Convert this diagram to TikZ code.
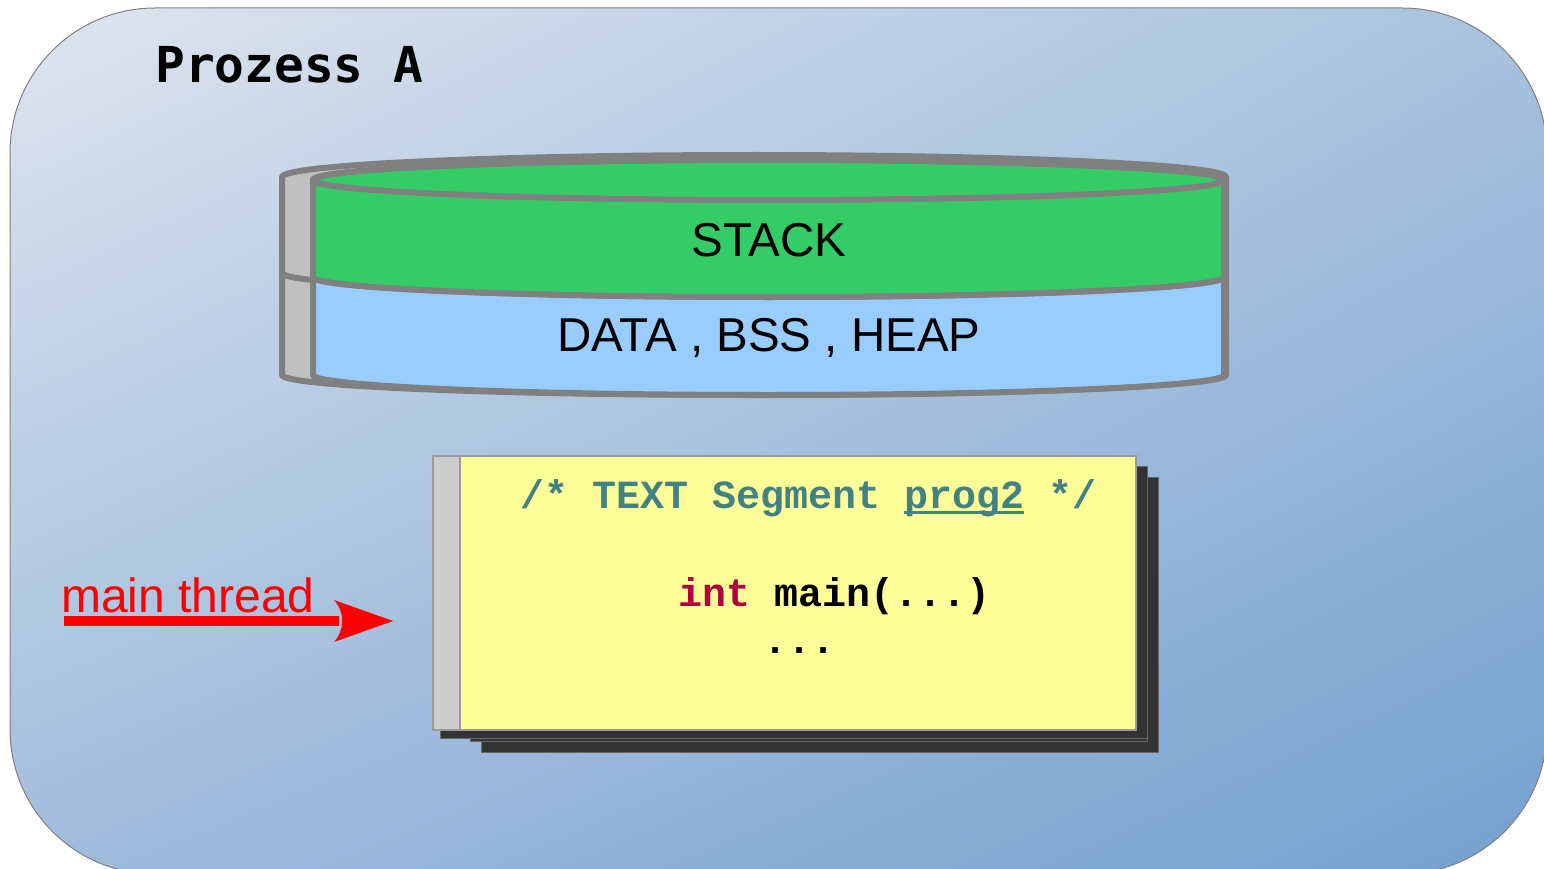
\documentclass[tikz,border=0pt]{standalone}
\usepackage{fontspec}
\setmainfont{Liberation Sans}
\newfontfamily\titlefont{DejaVu Sans Mono}
\newfontfamily\codefont{Liberation Mono}
\usetikzlibrary{shadings}
\definecolor{bgTL}{RGB}{222,229,239}
\definecolor{bgTR}{RGB}{168,194,222}
\definecolor{bgBL}{RGB}{160,188,220}
\definecolor{bgBR}{RGB}{116,160,207}
\definecolor{cylgray}{RGB}{128,128,128}
\definecolor{sidegray}{RGB}{192,192,192}
\definecolor{stackgreen}{RGB}{51,204,102}
\definecolor{datablue}{RGB}{153,204,255}
\definecolor{noteyellow}{RGB}{255,255,153}
\definecolor{stripgray}{RGB}{204,204,204}
\definecolor{shadowdark}{RGB}{51,51,51}
\definecolor{commentteal}{RGB}{67,130,130}
\definecolor{keywordred}{RGB}{176,0,64}
\newcommand\myul[1]{\setbox0=\hbox{#1}\rlap{\vrule width\wd0 height -3pt depth 5.5pt}\box0\relax}
\tikzset{
  cyl/.style={draw=cylgray, line width=6pt, line join=round},
  shadowbox/.style={fill=shadowdark, draw=black!60, line width=1pt},
  lbl/.style={inner sep=0pt, anchor=base},
  codetxt/.style={inner sep=0pt, anchor=base west, font=\codefont\bfseries\fontsize{40}{46}\selectfont},
}
\begin{document}
\begin{tikzpicture}[x=1pt,y=-1pt]
\useasboundingbox (0,0) rectangle (1544,869);
% process background
\shade[upper left=bgTL, upper right=bgTR, lower left=bgBL, lower right=bgBR, rounded corners=145pt]
  (10,8) rectangle (1547,874);
\draw[cylgray, line width=1pt, rounded corners=145pt] (10,8) rectangle (1547,874);
\node[inner sep=0pt, anchor=base west, font=\titlefont\bfseries\fontsize{49.5}{58}\selectfont] (title) at (155,83) {Prozess A};
% back cylinder
\draw[cyl, fill=sidegray] (282,177) arc[start angle=180, end angle=360, x radius=472, y radius=22]
  -- (1226,375) arc[start angle=0, end angle=180, x radius=472, y radius=20] -- cycle;
\draw[cyl] (282,273) arc[start angle=180, end angle=150, x radius=472, y radius=20];
% front cylinder: data part
\draw[cyl, fill=datablue] (313,277) -- (313,375) arc[start angle=180, end angle=0, x radius=455.5, y radius=20]
  -- (1224,277) arc[start angle=0, end angle=180, x radius=455.5, y radius=20] -- cycle;
% front cylinder: stack part
\draw[cyl, fill=stackgreen] (313,180) -- (313,277) arc[start angle=180, end angle=0, x radius=455.5, y radius=20]
  -- (1224,180) arc[start angle=0, end angle=-180, x radius=455.5, y radius=20] -- cycle;
\draw[cyl, fill=stackgreen] (768.5,180) ellipse[x radius=455.5, y radius=20];
\node[lbl, font=\fontsize{47.5}{54}\selectfont] (stack) at (769,256) {STACK};
\node[lbl, font=\fontsize{47.5}{54}\selectfont] (data) at (769,351) {DATA , BSS , HEAP};
% text segment with shadows
\draw[shadowbox] (481,477) rectangle (1158,752);
\draw[shadowbox] (470,466) rectangle (1147,741);
\draw[shadowbox] (440,466) rectangle (1147,738);
\draw[fill=noteyellow, draw=black!40, line width=1.5pt] (433,456) rectangle (1136,730);
\draw[fill=stripgray, draw=black!40, line width=1.5pt] (433,456) rectangle (460,730);
\node[codetxt, text=commentteal] (comment) at (520,508) {/* TEXT Segment \myul{prog2} */};
\node[codetxt] (code) at (678,606) {\textcolor{keywordred}{int} main(...)};
\node[codetxt] (dots) at (763,653) {...};
% main thread arrow
\node[inner sep=0pt, anchor=base west, text=red, font=\fontsize{48}{55}\selectfont] (thread) at (61,612) {main thread};
\coordinate (tstart) at (64,621);
\coordinate (tend) at (339,621);
\coordinate (ttip) at (393,621);
\draw[red, line width=10pt] (tstart) -- (tend);
\fill[red] (334,600) .. controls (345,612) and (345,630) .. (334,642) -- (ttip) -- cycle;
\end{tikzpicture}
\end{document}
